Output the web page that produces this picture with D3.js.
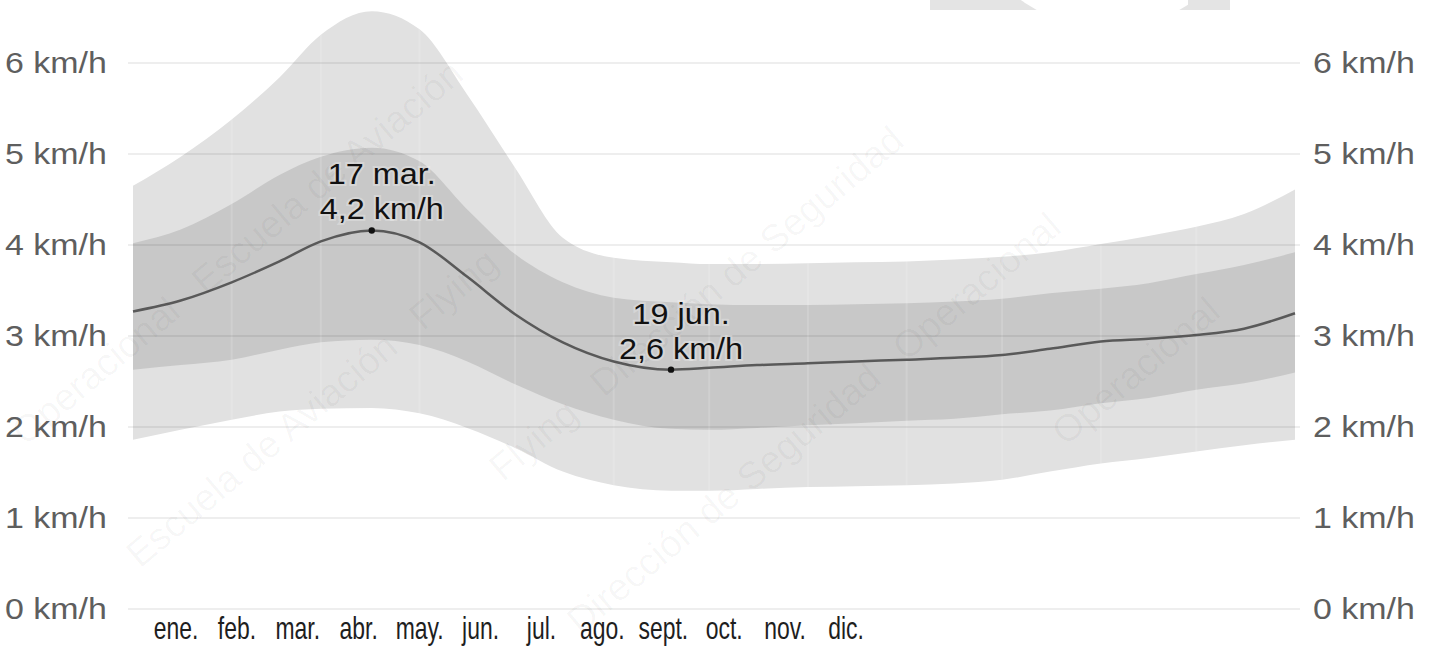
<!DOCTYPE html>
<html>
<head>
<meta charset="utf-8">
<script src="https://cdn.jsdelivr.net/npm/d3@7"></script>
<style>
  html, body { margin: 0; padding: 0; background: #fff; }
  svg { display: block; font-family: "Liberation Sans", Arial, sans-serif; }
</style>
</head>
<body>
<div id="chart"></div>
<script>
// day of year for each sample
var days = [0, 15, 31, 46, 59, 75, 90, 105, 120, 135, 151, 169, 181, 196, 212, 227, 243, 258, 273, 288, 304, 319, 334, 349, 365];
// average wind speed (km/h)
var meanSpeed = [3.27, 3.39, 3.59, 3.82, 4.04, 4.16, 4.03, 3.65, 3.24, 2.93, 2.72, 2.63, 2.65, 2.68, 2.70, 2.72, 2.74, 2.76, 2.79, 2.86, 2.94, 2.97, 3.01, 3.08, 3.25];
// 25th - 75th percentile
var p25 = [2.63, 2.68, 2.74, 2.85, 2.93, 2.96, 2.90, 2.72, 2.47, 2.25, 2.08, 1.98, 1.97, 1.99, 2.02, 2.04, 2.07, 2.09, 2.14, 2.18, 2.26, 2.32, 2.41, 2.48, 2.60];
var p75 = [4.02, 4.17, 4.45, 4.77, 4.97, 5.07, 4.92, 4.39, 3.90, 3.59, 3.42, 3.37, 3.35, 3.34, 3.34, 3.35, 3.36, 3.38, 3.41, 3.47, 3.52, 3.58, 3.68, 3.78, 3.92];
// 10th - 90th percentile
var p10 = [1.86, 1.97, 2.08, 2.17, 2.20, 2.21, 2.15, 1.99, 1.77, 1.51, 1.36, 1.30, 1.30, 1.32, 1.34, 1.35, 1.36, 1.38, 1.42, 1.51, 1.60, 1.66, 1.73, 1.80, 1.86];
var p90 = [4.65, 4.97, 5.38, 5.84, 6.31, 6.57, 6.37, 5.65, 4.85, 4.08, 3.86, 3.81, 3.79, 3.79, 3.80, 3.81, 3.82, 3.84, 3.87, 3.92, 4.01, 4.10, 4.20, 4.34, 4.61];

var months = ["ene.", "feb.", "mar.", "abr.", "may.", "jun.", "jul.", "ago.", "sept.", "oct.", "nov.", "dic."];
var monthStarts = [31, 59, 90, 120, 151, 181, 212, 243, 273, 304, 334];
var yTicks = [0, 1, 2, 3, 4, 5, 6];

var annotDays = [75, 169];
var annotValues = [4.16, 2.63];
var annotDates = ["17 mar.", "19 jun."];
var annotLabels = ["4,2 km/h", "2,6 km/h"];

var watermarkWords = ["Dirección de Seguridad", "Operacional", "Escuela de Aviación", "Flying"];

var W = 1431, H = 650;
var svg = d3.select("#chart").append("svg").attr("width", W).attr("height", H);

var x = d3.scaleLinear().domain([0, 365]).range([133, 1295]);
var y = d3.scaleLinear().domain([0, 6]).range([609, 63]);
var xMonth = d3.scalePoint().domain(months).range([176, 846]);

var rows = days.map(function(d, i) {
  return { day: d, mean: meanSpeed[i], lo25: p25[i], hi75: p75[i], lo10: p10[i], hi90: p90[i] };
});

var outerArea = d3.area().curve(d3.curveMonotoneX)
  .x(function(d) { return x(d.day); })
  .y0(function(d) { return y(d.lo10); })
  .y1(function(d) { return y(d.hi90); });
var innerArea = d3.area().curve(d3.curveMonotoneX)
  .x(function(d) { return x(d.day); })
  .y0(function(d) { return y(d.lo25); })
  .y1(function(d) { return y(d.hi75); });
var meanLine = d3.line().curve(d3.curveMonotoneX)
  .x(function(d) { return x(d.day); })
  .y(function(d) { return y(d.mean); });

// faint shapes at the top right
svg.append("rect").attr("x", 930).attr("y", 0).attr("width", 300).attr("height", 10).attr("fill", "#e4e4e4");
svg.append("circle").attr("cx", 1108).attr("cy", -122).attr("r", 150).attr("fill", "#fff");
svg.append("rect").attr("x", 1188).attr("y", 0).attr("width", 42).attr("height", 9).attr("fill", "#e4e4e4");

svg.append("clipPath").attr("id", "bandClip")
  .append("path").attr("d", outerArea(rows));

svg.append("path").attr("d", outerArea(rows)).attr("fill", "#e1e1e1");
svg.append("path").attr("d", innerArea(rows)).attr("fill", "#c8c8c8");

// month separators inside the bands
svg.append("g").attr("clip-path", "url(#bandClip)")
  .selectAll("line").data(monthStarts).enter().append("line")
  .attr("x1", function(d) { return x(d); }).attr("x2", function(d) { return x(d); })
  .attr("y1", 0).attr("y2", H)
  .attr("stroke", "rgba(255,255,255,0.15)").attr("stroke-width", 2);

// horizontal grid
svg.append("g").selectAll("line").data(yTicks).enter().append("line")
  .attr("x1", 128).attr("x2", 1300)
  .attr("y1", function(d) { return y(d); }).attr("y2", function(d) { return y(d); })
  .attr("stroke", "rgba(0,0,0,0.065)").attr("stroke-width", 2);

svg.append("path").attr("d", meanLine(rows))
  .attr("fill", "none").attr("stroke", "#595959").attr("stroke-width", 2.5);

// watermark, only pieces that fit fully inside the picture
var wm = svg.append("g").attr("fill", "rgba(0,0,0,0.035)").attr("font-size", 38);
for (var r = -3; r < 9; r++) {
  var ox = r * 260 - 300, oy = 720;
  var along = 0;
  for (var k = 0; k < 12; k++) {
    var word = watermarkWords[(k + r + 8) % watermarkWords.length];
    var cx = ox + along * Math.cos(-40 * Math.PI / 180);
    var cy = oy + along * Math.sin(-40 * Math.PI / 180);
    var t = wm.append("text")
      .attr("transform", "translate(" + cx + "," + cy + ") rotate(-40)")
      .text(word);
    var len = t.node().getComputedTextLength();
    along += len + 30;
    var b = t.node().getBoundingClientRect();
    if (b.left < 2 || b.top < 2 || b.right > W - 2 || b.bottom > H - 2) t.remove();
  }
}

// y labels both sides
function yLabels(xPos) {
  svg.append("g").selectAll("g").data(yTicks).enter().append("g")
    .attr("transform", function(d) { return "translate(" + xPos + "," + (y(d) + 10) + ") scale(1.17,1)"; })
    .append("text")
    .attr("font-size", 29).attr("fill", "#5e5e5e")
    .text(function(d) { return d + " km/h"; });
}
yLabels(5);
yLabels(1313);

// month labels
svg.append("g").selectAll("g").data(months).enter().append("g")
  .attr("transform", function(d) { return "translate(" + xMonth(d) + ",639) scale(0.74,1)"; })
  .append("text")
  .attr("text-anchor", "middle").attr("font-size", 31).attr("fill", "#1e1e1e")
  .text(function(d) { return d; });

// min / max annotations
annotDays.forEach(function(d, i) {
  var px = x(d), py = y(annotValues[i]);
  var g = svg.append("g").attr("transform", "translate(" + (px + 10) + "," + py + ") scale(1.08,1)");
  [annotDates[i], annotLabels[i]].forEach(function(t, j) {
    g.append("text")
      .attr("y", j === 0 ? -46 : -11)
      .attr("text-anchor", "middle").attr("font-size", 30)
      .attr("fill", "#111")
      .attr("stroke", "rgba(255,255,255,0.25)").attr("stroke-width", 4)
      .attr("paint-order", "stroke")
      .text(t);
  });
  svg.append("circle").attr("cx", px).attr("cy", py).attr("r", 3.2).attr("fill", "#111");
});
</script>
</body>
</html>
